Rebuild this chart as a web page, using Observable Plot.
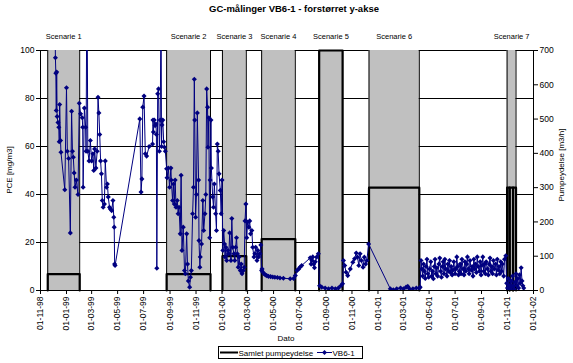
<!DOCTYPE html>
<html><head><meta charset="utf-8">
<script src="https://cdn.jsdelivr.net/npm/d3@7"></script>
<script src="https://cdn.jsdelivr.net/npm/@observablehq/plot@0.6"></script>
<style>
body{margin:0;background:#fff;font-family:"Liberation Sans",Arial,sans-serif;}
#wrap{position:relative;width:573px;height:363px;overflow:hidden;background:#fff;}
.t{position:absolute;white-space:nowrap;color:#000;line-height:1;}
#legend{position:absolute;left:218px;top:346px;width:143px;height:11px;border:1px solid #000;font-size:8px;}
</style></head><body><div id="wrap"></div>
<script>
// ---------- data ----------
const title = "GC-målinger VB6-1 - forstørret y-akse";
const startDate = "1998-11-01";
const endDate = "2002-01-01";
const leftTicks = [0, 20, 40, 60, 80, 100];
const rightTicks = [0, 100, 200, 300, 400, 500, 600, 700];
const xTicks = ["1998-11-01","1999-01-01","1999-03-01","1999-05-01","1999-07-01","1999-09-01","1999-11-01",
  "2000-01-01","2000-03-01","2000-05-01","2000-07-01","2000-09-01","2000-11-01",
  "2001-01-01","2001-03-01","2001-05-01","2001-07-01","2001-09-01","2001-11-01","2002-01-01"];
const scenarioNames = ["Scenarie 1","Scenarie 2","Scenarie 3","Scenarie 4","Scenarie 5","Scenarie 6","Scenarie 7"];
const scenarioStart = ["1998-11-18","1999-08-24","2000-01-02","2000-04-03","2000-08-16","2000-12-11","2001-10-31"];
const scenarioEnd   = ["1999-02-01","1999-12-05","2000-02-27","2000-06-21","2000-10-10","2001-04-08","2001-11-21"];
const bandTop = 700; // m3/h, secondary axis
const pumpStart = ["1998-11-18","1999-08-24","2000-01-02","2000-04-03","2000-08-16","2000-12-11","2001-10-31","2001-11-06","2001-11-14"];
const pumpEnd   = ["1999-02-01","1999-12-05","2000-02-27","2000-06-21","2000-10-10","2001-04-08","2001-11-06","2001-11-14","2001-11-21"];
const pumpRate  = [48, 48, 100, 150, 700, 300, 300, 300, 300];
// VB6-1 samples: [days since startDate, PCE mg/m3]
const vb61Samples = [
[34,115],[35,97],[36,90.5],[37,75],[38,91],[39,72.5],[41,70],[43,68],[44,62],[45,77.5],[47,62.5],[48,57.6],[57,42],[61,84.5],[63,58],[66,55],[70,24],[73,74.7],[75,58],[77,55.5],[79,49],[81,43],[84,46],[88,40],
[91,78],[94,73.6],[98,72],[99,68],[100,43],[103,76],[106,68],[107,58],[109,140],[111,58],[114,54],[117,62.5],[120,54],[123,57],[125,50],[127,59],[130,51],[133,58],[135,80.5],[137,74],[139,65],[141,54],[143,48.6],[145,37.5],[147,34.7],[150,36],[152,54],[155,43],[157,44.4],[159,39],[162,34.7],[164,34],[167,33.3],[170,37.5],[172,30.5],[173,26.4],[174,11],[175,10.4],
[233,71.5],[236,41],[238,46.5],[240,76.4],[243,81],[246,57],[249,56],[255,60],[263,61],[264,71],[265,66],[267,71],[269,68.7],[271,69.4],[272,65],[273,9.3],[275,82],[277,84],[279,58],[281,71],[283,125],[284,60],[285,69],[287,71],[289,62],[291,59.7],[293,58],
[296,50.7],[297,47],[300,51],[303,43],[306,51],[307,46],[310,37.5],[312,44.4],[314,36],[316,46],[318,34.7],[321,37.5],[323,32],[325,34.7],[328,23.6],[330,48],[332,16.7],[335,26.4],[338,8.3],[340,7],[343,23.6],[345,11],[347,4],[350,1.4],[352,5.5],[354,8.3],[357,32],[359,43],[361,88],[362,71],[364,30.5],[366,40],[368,74],[371,46],[372,20.8],[374,9.7],[375,14],[378,19.4],[381,37.5],[383,25],[386,32],[388,40],[390,84],[392,76.4],[393,59.7],[395,72],[397,22],[398,46],[400,71],[401,51],[404,39],[406,34.7],[408,44.4],[411,32],[413,25],[415,61],[417,58],[419,48.6],[422,41.7],[424,32],[426,46],
[428,16.7],[430,25],[432,19.4],[433,14],[435,18],[437,12.5],[440,16.7],[442,15.3],[444,24],[447,12.5],[449,30],[451,18],[454,15.3],[456,12.5],[458,18],[460,22],[462,15.3],[464,9.7],[466,14],[469,8.3],[471,11],[473,7],[476,8.3],[478,9.7],[480,29],[482,36],[484,22],[486,28.5],[489,26.4],[491,29],[493,23.6],[496,25],[498,18],[501,14],[503,15.3],[505,18],[508,12.5],[510,16.7],[512,14],[515,15.3],[517,19],[519,8.3],
[520,9],[522,7.6],[525,6.9],[528,6.5],[531,6.2],[535,5.9],[540,5.8],[545,5.6],[550,5.5],[556,5.4],[562,5.2],[570,5.1],[586,4.9],[594,5],[598,6.2],[602,8.3],[606,9],[609,9.7],[613,10.4],[633,13.6],[635,11],[637,12.5],[639,14],[641,11],[643,9.5],[645,12],[648,13.9],[652,15.3],
[655,2],[660,1.4],[668,1],[676,0.7],[684,1],[692,0.7],[699,1],[705,2],[709,2.8],[711,12.5],[714,10.4],[717,7.6],[721,6.2],[727,9],[733,11.8],[737,13.2],[741,15.6],[744,13.9],[747,10.4],[750,15.3],[753,12.5],[757,9.7],[760,13.9],[763,11],[766,12.5],[770,19.4],
[821,0.7],[828,0.3],[836,0.7],[845,1],[852,0.7],[858,1.4],[862,1.7],[866,0.7],[874,0.7],[882,1],[889,1],[891,1.4],
[893,12.5],[895,9],[897,6],[899,11],[901,8],[903,5],[905,10],[907,13],[909,7],[911,5.5],[913,9],[916,12],[918,6],[920,8],[922,4.9],[924,10],[926,13],[928,7],[930,9.5],[932,6],[935,11],[937,13.5],[939,8],[941,5.5],[943,10],[945,12],[947,7],[949,13],[951,9],[954,6],[956,11],[958,8],[960,12.5],[962,7.5],[964,10],[966,6.5],[968,8.5],[970,12],[973,7],[975,9],[977,14],[979,10],[981,6.5],[983,8],[985,11],[987,7],[989,13],[992,9],[994,6.5],[996,12],[998,8],[1000,11],[1002,14],[1004,9],[1006,7],[1008,12.5],[1011,8.5],[1013,10],[1015,6],[1017,13],[1019,9],[1021,11],[1023,7.5],[1025,14],[1027,10],[1030,8],[1032,12],[1034,6.5],[1036,10.5],[1038,14],[1040,8],[1042,11],[1044,7],[1046,12],[1049,9],[1051,6.5],[1053,11],[1055,13.5],[1057,8],[1059,10],[1061,7],[1063,12.5],[1065,9],[1068,11],[1070,6.5],[1072,13],[1074,8.5],[1076,10],[1078,7],[1080,12],[1082,8],[1084,11],[1087,6],[1089,13],[1092,14.5],
[1094,3],[1096,1],[1098,5],[1100,2],[1102,0.5],[1104,4],[1106,1.5],[1108,6],[1110,2],[1112,0.5],[1114,3.5],[1116,7],[1118,2],[1120,5],[1122,1],[1124,6.5],[1126,3],[1128,9.5],[1130,4],[1132,2],[1134,1]
];

// ---------- build ----------
const parse = d3.utcParse("%Y-%m-%d");
const t0 = parse(startDate), t1 = parse(endDate);
const vb61 = vb61Samples.map(([d, v]) => ({date: d3.utcDay.offset(t0, d), value: v}));
const scenarios = scenarioNames.map((name, i) => ({name, start: parse(scenarioStart[i]), end: parse(scenarioEnd[i])}));
scenarios.forEach(s => s.mid = new Date((+s.start + +s.end) / 2));
const pump = [];
pumpStart.forEach((s, i) => {
  const a = parse(s), b = parse(pumpEnd[i]), r = pumpRate[i];
  pump.push({period: i, date: a, rate: 0}, {period: i, date: a, rate: r}, {period: i, date: b, rate: r}, {period: i, date: b, rate: 0});
});
const k = rightTicks[rightTicks.length - 1] / leftTicks[leftTicks.length - 1]; // 700/100
const navy = "#000080";

const chart = Plot.plot({
  width: 573, height: 363,
  marginLeft: 40, marginRight: 40, marginTop: 50, marginBottom: 73,
  style: {fontFamily: "'Liberation Sans', Arial, sans-serif", fontSize: "8.5px", background: "transparent", overflow: "visible"},
  x: {type: "utc", domain: [t0, t1]},
  y: {domain: [0, 100]},
  marks: [
    Plot.ruleY(leftTicks.slice(1), {stroke: "#000", strokeWidth: 1}),
    Plot.rect(scenarios, {x1: "start", x2: "end", y1: d => 0, y2: d => bandTop / k, fill: "#c0c0c0"}),
    Plot.ruleX(scenarios, {x: "start", y1: d => 0, y2: d => bandTop / k, stroke: "#000", strokeWidth: 1}),
    Plot.ruleX(scenarios, {x: "end", y1: d => 0, y2: d => bandTop / k, stroke: "#000", strokeWidth: 1}),
    Plot.ruleX([t0, t1], {y1: 0, y2: 100, stroke: "#000"}),
    Plot.ruleY([0], {stroke: "#000"}),
    Plot.line(pump, {x: "date", y: d => d.rate / k, z: "period", stroke: "#000", strokeWidth: 2.2}),
    Plot.line(vb61, {x: "date", y: "value", stroke: navy, strokeWidth: 1, clip: true}),
    Plot.dot(vb61, {x: "date", y: "value", symbol: "diamond2", r: 2.3, fill: navy, stroke: "none", clip: true}),
    Plot.axisY({anchor: "left", ticks: leftTicks, tickSize: 4, tickPadding: 2, label: null}),
    Plot.axisY({anchor: "right", ticks: rightTicks.map(v => v / k), tickFormat: d => Math.round(d * k), tickSize: 4, tickPadding: 2, label: null}),
    Plot.axisX({ticks: xTicks.map(parse), tickFormat: d3.utcFormat("%d-%m-%y"), tickRotate: -90, tickSize: 4, tickPadding: 2, label: null}),
    Plot.text(scenarios, {x: "mid", y: d => 100, text: "name", dy: -14, fontSize: 7.5, textAnchor: "middle"})
  ]
});

const wrap = document.getElementById("wrap");
wrap.appendChild(chart);
function addText(txt, css) {
  const el = document.createElement("div");
  el.className = "t"; el.textContent = txt;
  Object.assign(el.style, css);
  wrap.appendChild(el);
  return el;
}
addText(title, {left: "294px", top: "9px", transform: "translate(-50%,-50%)", fontWeight: "bold", fontSize: "9.5px"});
addText("PCE [mg/m3]", {left: "10px", top: "170px", transform: "translate(-50%,-50%) rotate(-90deg)", fontSize: "8px"});
addText("Pumpeydelse [m3/h]", {left: "562px", top: "165px", transform: "translate(-50%,-50%) rotate(-90deg)", fontSize: "8px"});
addText("Dato", {left: "286px", top: "339px", transform: "translate(-50%,-50%)", fontSize: "8px"});

const lg = document.createElement("div");
lg.id = "legend";
lg.innerHTML = `<svg width="143" height="11" style="position:absolute;left:0;top:0">
  <line x1="1" x2="19" y1="5.5" y2="5.5" stroke="#000" stroke-width="2"/>
  <text x="19.5" y="8.5" font-size="8" font-family="Liberation Sans, Arial, sans-serif">Samlet pumpeydelse</text>
  <line x1="98" x2="113" y1="5.5" y2="5.5" stroke="${navy}" stroke-width="1"/>
  <path d="M105.5,3L108,5.5L105.5,8L103,5.5Z" fill="${navy}"/>
  <text x="113.5" y="8.5" font-size="8" font-family="Liberation Sans, Arial, sans-serif">VB6-1</text>
</svg>`;
wrap.appendChild(lg);
</script>
</body></html>
